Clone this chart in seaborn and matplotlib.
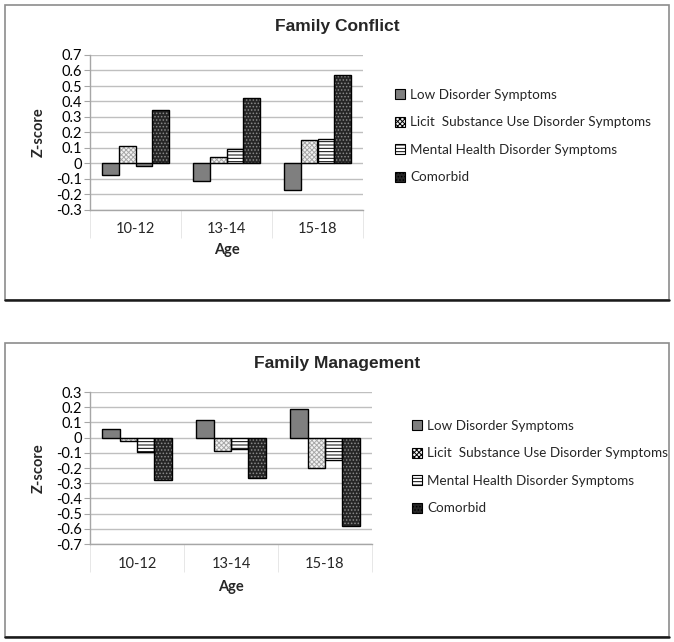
import seaborn as sns
import matplotlib.pyplot as plt
import pandas as pd
import numpy as np
from matplotlib.patches import Rectangle, Patch
from matplotlib.lines import Line2D
from matplotlib.ticker import FuncFormatter, MultipleLocator

# -----------------------
# Data
# -----------------------
ages = ["10-12", "13-14", "15-18"]
groups = ["Low Disorder Symptoms", "Licit  Substance Use Disorder Symptoms",
          "Mental Health Disorder Symptoms", "Comorbid"]

conflict_low = [-0.075, -0.11, -0.168]
conflict_licit = [0.11, 0.045, 0.15]
conflict_mental = [-0.017, 0.095, 0.155]
conflict_comorbid = [0.345, 0.425, 0.57]

mgmt_low = [0.056, 0.115, 0.19]
mgmt_licit = [-0.023, -0.089, -0.201]
mgmt_mental = [-0.096, -0.074, -0.148]
mgmt_comorbid = [-0.276, -0.263, -0.579]


def long_df(series):
    rows = []
    for grp, vals in zip(groups, series):
        for a, v in zip(ages, vals):
            rows.append([a, grp, v])
    return pd.DataFrame(rows, columns=["Age", "Group", "Z"])


df_conflict = long_df([conflict_low, conflict_licit, conflict_mental, conflict_comorbid])
df_mgmt = long_df([mgmt_low, mgmt_licit, mgmt_mental, mgmt_comorbid])

# fill / hatch per group (Excel-like monochrome patterns)
styles = {
    groups[0]: dict(face="#7f7f7f", hatch="", hc="black"),
    groups[1]: dict(face="#f2f2f2", hatch="xxxxxxx", hc="#a8a8a8"),
    groups[2]: dict(face="white", hatch="-----", hc="black"),
    groups[3]: dict(face="#262626", hatch=".....", hc="#8a8a8a"),
}

# -----------------------
# Style
# -----------------------
sns.set_style("white")
plt.rcParams["font.family"] = ["Lato", "DejaVu Sans"]
plt.rcParams["hatch.linewidth"] = 0.7

fig = plt.figure(figsize=(6.74, 6.42), dpi=100)

W, H = 674, 642


def fx(px):
    return px / W


def fy(py):
    return 1 - py / H


def draw_panel(ax, df, lo, hi, title, title_y, leg_x, leg_y):
    sns.barplot(data=df, x="Age", y="Z", hue="Group", order=ages, hue_order=groups,
                palette=["white"] * 4, saturation=1, width=0.74, errorbar=None,
                legend=False, ax=ax)
    for cont, grp in zip(ax.containers, groups):
        st = styles[grp]
        for p in cont:
            p.set_facecolor(st["face"])
            p.set_hatch(st["hatch"])
            p.set_edgecolor(st["hc"])
            p.set_linewidth(0.5)
            ax.add_patch(Rectangle(p.get_xy(), p.get_width(), p.get_height(),
                                   fill=False, edgecolor="black", lw=1.0,
                                   zorder=p.get_zorder() + 0.1))

    ax.set_ylim(lo, hi)
    ax.set_xlim(-0.5, 2.5)
    ax.yaxis.set_major_locator(MultipleLocator(0.1))
    ax.yaxis.set_major_formatter(FuncFormatter(lambda v, _: f"{round(v, 1) + 0.0:g}"))
    ax.yaxis.grid(True, color="#bfbfbf", lw=1)
    ax.set_axisbelow(True)
    for s in ["top", "right"]:
        ax.spines[s].set_visible(False)
    for s in ["left", "bottom"]:
        ax.spines[s].set_color("#a6a6a6")
        ax.spines[s].set_linewidth(1)

    ax.tick_params(axis="y", left=True, length=4, color="#a6a6a6", labelsize=10.5,
                   pad=2, labelcolor="black")
    ax.tick_params(axis="x", which="major", length=0, labelsize=10.5, pad=9)
    ax.set_xticks([-0.5, 0.5, 1.5, 2.5], minor=True)
    ax.tick_params(axis="x", which="minor", bottom=True, length=20, color="#e3e3e3")

    ax.set_xlabel("Age", fontsize=10.5, fontweight="bold")
    ax.set_ylabel("Z-score", fontsize=10.5, fontweight="bold")

    fig.text(0.5, title_y, title, ha="center", va="center", fontsize=12.5,
             fontweight="bold", family=["Liberation Sans", "DejaVu Sans"])

    handles = [Patch(facecolor=styles[g]["face"], hatch=styles[g]["hatch"],
                     edgecolor="black", lw=0.8) for g in groups]
    fig.legend(handles, groups, loc="upper left", bbox_to_anchor=(leg_x, leg_y),
               frameon=False, fontsize=9.7, handlelength=0.75, handleheight=0.75,
               handletextpad=0.4, labelspacing=1.15, borderpad=0, borderaxespad=0)


# top panel: Family Conflict
ax1 = fig.add_axes([fx(90), fy(210), fx(363 - 90), (210 - 55) / H])
draw_panel(ax1, df_conflict, -0.3, 0.7, "Family Conflict", fy(27), fx(395), fy(89))
ax1.xaxis.set_label_coords(0.5, -33 / 155)
ax1.yaxis.set_label_coords(-44 / 273, 0.5)

# bottom panel: Family Management
ax2 = fig.add_axes([fx(90), fy(544), fx(372 - 90), (544 - 392) / H])
draw_panel(ax2, df_mgmt, -0.7, 0.3, "Family Management", fy(364), fx(412), fy(420))
ax2.xaxis.set_label_coords(0.5, -36 / 152)
ax2.yaxis.set_label_coords(-44 / 282, 0.5)

# panel frames
for top, bot in [(5, 300), (343, 637)]:
    fig.add_artist(Rectangle((fx(5), fy(bot)), fx(669 - 5), (bot - top) / H,
                             transform=fig.transFigure, fill=False,
                             edgecolor="#8c8c8c", lw=1.2))
    fig.add_artist(Line2D([fx(5), fx(669)], [fy(bot), fy(bot)],
                          transform=fig.transFigure, color="#1a1a1a", lw=1.8))

plt.savefig("out.png", dpi=100)
plt.close()
